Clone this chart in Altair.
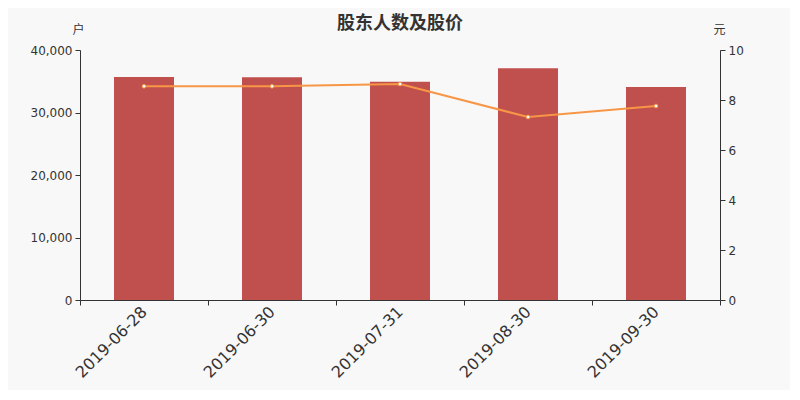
import altair as alt
import pandas as pd

dates = ["2019-06-28", "2019-06-30", "2019-07-31", "2019-08-30", "2019-09-30"]
holders = [35680, 35650, 34930, 37070, 34080]
prices = [8.55, 8.55, 8.64, 7.32, 7.76]

df = pd.DataFrame({"date": dates, "holders": holders, "price": prices})

CJK = "Noto Sans CJK SC"
LAT = "DejaVu Sans"

x = alt.X("date:N", sort=dates, title=None,
          scale=alt.Scale(paddingInner=0, paddingOuter=0),
          axis=alt.Axis(labelAngle=315, labelAlign="right", labelBaseline="middle",
                        labelFontSize=16, labelFont=LAT, labelColor="#333",
                        labelPadding=4, tickBand="extent", tickSize=5,
                        domainColor="#333", tickColor="#333", labelOverlap=False))

bars = alt.Chart(df).mark_bar(color="#c0504d", size=60).encode(
    x=x,
    y=alt.Y("holders:Q", scale=alt.Scale(domain=[0, 40000]),
            axis=alt.Axis(title="户", titleAngle=0, titleX=-2, titleY=-17,
                          titleAlign="center", titleBaseline="alphabetic",
                          titleFont=CJK, titleFontSize=12, titleFontWeight="normal",
                          titleColor="#333",
                          values=[0, 10000, 20000, 30000, 40000], format=",.0f",
                          labelFont=LAT, labelFontSize=12, labelColor="#333",
                          domainColor="#333", tickColor="#333", tickSize=5,
                          grid=False, labelPadding=3)),
)

line = alt.Chart(df).mark_line(
    color="#f79646", strokeWidth=2,
    point=alt.OverlayMarkDef(filled=True, fill="white", stroke="#f79646",
                             strokeWidth=1, size=14, opacity=1),
).encode(
    x=x,
    y=alt.Y("price:Q", scale=alt.Scale(domain=[0, 10]),
            axis=alt.Axis(orient="right", title="元", titleAngle=0, titleX=-1, titleY=-17,
                          titleAlign="center", titleBaseline="alphabetic",
                          titleFont=CJK, titleFontSize=12, titleFontWeight="normal",
                          titleColor="#333",
                          values=[0, 2, 4, 6, 8, 10], format="d",
                          labelFont=LAT, labelFontSize=12, labelColor="#333",
                          domainColor="#333", tickColor="#333", tickSize=5,
                          grid=False, labelPadding=3)),
)

chart = alt.layer(bars, line).resolve_scale(y="independent").properties(
    width=640, height=250,
    title=alt.TitleParams("股东人数及股价", font=CJK, fontSize=18, fontWeight="bold",
                          color="#333", anchor="middle", offset=-10),
    autosize=alt.AutoSizeParams(type="none"),
    padding={"left": 72, "top": 42, "right": 70, "bottom": 90},
    background="#f8f8f8",
).configure_view(stroke=None)

chart.save("out.html", embed_options={"renderer": "svg", "actions": False})
